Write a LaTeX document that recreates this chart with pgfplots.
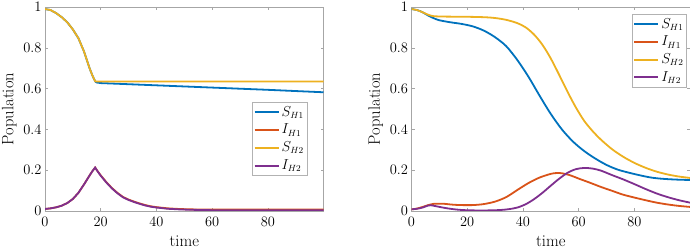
\documentclass[border=0pt]{standalone}
\usepackage{pgfplots}
\pgfplotsset{compat=1.18}
\definecolor{mblue}{rgb}{0,0.447,0.741}
\definecolor{mred}{rgb}{0.85,0.325,0.098}
\definecolor{myellow}{rgb}{0.929,0.694,0.125}
\definecolor{mpurple}{rgb}{0.494,0.184,0.556}
\pgfplotsset{
  mstyle/.style={
    scale only axis, width=278.5pt, height=204pt,
    xmin=0, xmax=100, ymin=0, ymax=1,
    xtick={0,20,40,60,80}, ytick={0,0.2,0.4,0.6,0.8,1},
    yticklabels={0,0.2,0.4,0.6,0.8,1},
    axis line style={gray!70, line width=0.5pt},
    tick style={gray!70, line width=0.5pt},
    tick align=inside, major tick length=3pt,
    ticklabel style={font=\fontsize{14.5}{17}\selectfont},
    xticklabel style={yshift=-3pt},
    xlabel={time}, ylabel={Population},
    every axis x label/.style={at={(axis description cs:0.5,-0.147)}, anchor=center, font=\fontsize{16.5}{19}\selectfont},
    every axis y label/.style={at={(axis description cs:-0.128,0.5)}, rotate=90, anchor=center, inner sep=0pt, font=\fontsize{16.5}{19}\selectfont},
    legend cell align=left,
    legend style={draw=gray!60, fill=white, line width=0.5pt,
      font=\fontsize{13.5}{15}\selectfont, inner xsep=1pt, inner ysep=2pt,
      row sep=2.5pt},
    legend image code/.code={\draw[#1, line width=2pt] (0pt,0pt) -- (24pt,0pt);},
  },
  ml/.style={line width=1.8pt, color=#1},
}
\begin{document}
\begin{tikzpicture}
\begin{axis}[mstyle, at={(45pt,40pt)}, anchor=south west,
  legend style={at={(0.941,0.534)}, anchor=north east}]
\addplot[ml=mblue] coordinates {(0,0.990)(2,0.985)(4,0.970)(6,0.950)(8,0.925)(10,0.890)(12,0.847)(14,0.782)(16,0.700)(17,0.665)(18,0.636)(18.5,0.630)(20,0.627)(40,0.616)(60,0.605)(80,0.594)(100,0.582)};
\addlegendentry{$S_{H1}$}
\addplot[ml=mred] coordinates {(0,0.010)(2,0.013)(4,0.018)(6,0.026)(8,0.039)(10,0.059)(12,0.089)(14,0.130)(16,0.174)(17,0.195)(18,0.213)(19,0.193)(20,0.175)(22,0.142)(24,0.113)(26,0.089)(28,0.069)(30,0.056)(32,0.046)(34,0.037)(36,0.029)(38,0.023)(40,0.019)(44,0.013)(48,0.010)(52,0.008)(60,0.007)(70,0.007)(80,0.007)(100,0.007)};
\addlegendentry{$I_{H1}$}
\addplot[ml=myellow] coordinates {(0,0.990)(2,0.985)(4,0.970)(6,0.950)(8,0.925)(10,0.890)(12,0.847)(14,0.782)(16,0.700)(17,0.665)(18,0.636)(18.5,0.635)(20,0.635)(40,0.635)(60,0.635)(80,0.635)(100,0.635)};
\addlegendentry{$S_{H2}$}
\addplot[ml=mpurple] coordinates {(0,0.010)(2,0.013)(4,0.018)(6,0.026)(8,0.039)(10,0.059)(12,0.089)(14,0.130)(16,0.174)(17,0.195)(18,0.213)(19,0.192)(20,0.173)(22,0.140)(24,0.111)(26,0.087)(28,0.067)(30,0.054)(32,0.044)(34,0.035)(36,0.027)(38,0.021)(40,0.017)(44,0.011)(48,0.008)(52,0.006)(60,0.004)(70,0.003)(80,0.003)(100,0.003)};
\addlegendentry{$I_{H2}$}
\end{axis}
\begin{axis}[mstyle, at={(411.5pt,40pt)}, anchor=south west,
  legend style={at={(0.988,0.966)}, anchor=north east}]
\addplot[ml=mblue, smooth] coordinates {(0,0.990)(2,0.985)(4,0.974)(6,0.958)(8,0.945)(10,0.935)(14,0.925)(18,0.917)(22,0.905)(26,0.884)(30,0.852)(34,0.808)(38,0.740)(42,0.658)(46,0.565)(50,0.476)(54,0.400)(58,0.340)(62,0.294)(66,0.257)(70,0.226)(74,0.203)(78,0.188)(82,0.175)(86,0.164)(90,0.158)(95,0.154)(100,0.152)};
\addlegendentry{$S_{H1}$}
\addplot[ml=mred, smooth] coordinates {(0,0.008)(2,0.012)(4,0.020)(6,0.029)(8,0.035)(10,0.036)(12,0.035)(14,0.032)(16,0.030)(18,0.029)(22,0.029)(26,0.034)(30,0.046)(34,0.068)(38,0.103)(42,0.137)(46,0.164)(50,0.182)(52,0.186)(54,0.185)(57,0.175)(60,0.159)(64,0.139)(68,0.118)(72,0.099)(76,0.080)(80,0.066)(84,0.053)(88,0.041)(92,0.032)(96,0.025)(100,0.020)};
\addlegendentry{$I_{H1}$}
\addplot[ml=myellow, smooth] coordinates {(0,0.990)(2,0.985)(4,0.974)(6,0.962)(8,0.955)(12,0.953)(20,0.952)(26,0.950)(30,0.946)(34,0.937)(38,0.921)(41,0.900)(44,0.865)(47,0.815)(50,0.748)(53,0.668)(56,0.585)(59,0.508)(62,0.442)(65,0.392)(68,0.350)(72,0.303)(76,0.266)(80,0.236)(84,0.212)(88,0.193)(92,0.179)(96,0.169)(100,0.162)};
\addlegendentry{$S_{H2}$}
\addplot[ml=mpurple, smooth] coordinates {(0,0.008)(2,0.011)(4,0.017)(6,0.027)(7,0.028)(9,0.023)(12,0.015)(15,0.009)(18,0.005)(22,0.003)(28,0.003)(32,0.005)(35,0.009)(38,0.017)(41,0.033)(44,0.058)(47,0.089)(50,0.124)(53,0.158)(56,0.187)(59,0.205)(62,0.211)(65,0.208)(68,0.198)(72,0.176)(76,0.155)(80,0.132)(84,0.108)(88,0.086)(92,0.068)(96,0.053)(100,0.041)};
\addlegendentry{$I_{H2}$}
\end{axis}
\pgfresetboundingbox
\useasboundingbox (0,0) rectangle (690pt,251pt);
\end{tikzpicture}
\end{document}
